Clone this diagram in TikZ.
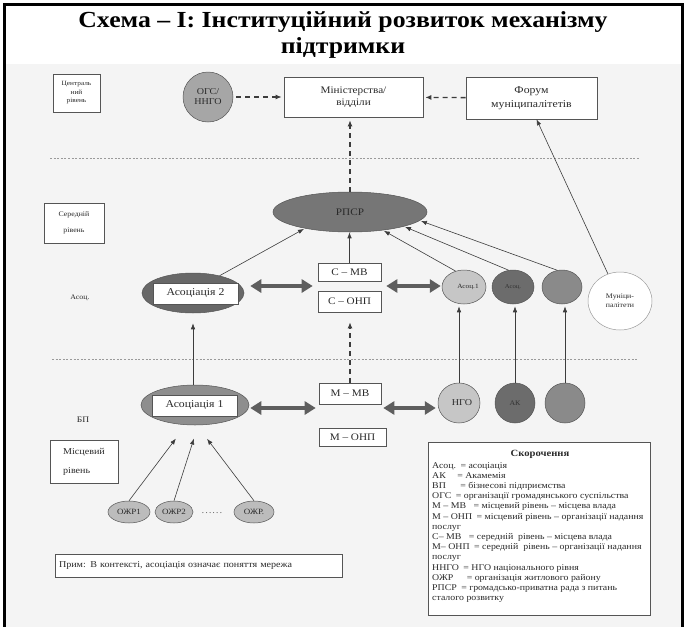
\documentclass[tikz,border=0pt]{standalone}
\usepackage{fontspec}
\setmainfont[FakeStretch=1.12]{Liberation Serif}
\usetikzlibrary{shapes.geometric,arrows.meta,calc}
\definecolor{scanbg}{HTML}{F4F4F4}
\definecolor{txt}{HTML}{2A2A2A}
\definecolor{boxc}{HTML}{555555}
\definecolor{linec}{HTML}{3C3C3C}
\definecolor{dblc}{HTML}{5E5E5E}
\definecolor{rpsrc}{HTML}{767676}
\definecolor{atwoc}{HTML}{686868}
\definecolor{aonec}{HTML}{8E8E8E}
\definecolor{ogsc}{HTML}{A6A6A6}
\definecolor{lightc}{HTML}{C6C6C6}
\definecolor{darkc}{HTML}{6C6C6C}
\definecolor{medc}{HTML}{8A8A8A}
\definecolor{ozc}{HTML}{BCBCBC}
\definecolor{hdc}{HTML}{9A9A9A}
\tikzset{
  fs/.style={font=\fontsize{#1}{#1}\selectfont},
  titlef/.style={font=\fontsize{23}{26}\bfseries\selectfont, text=black, inner sep=0},
  rbox/.style={draw=boxc, line width=0.6pt, fill=white, inner sep=0, align=center, text=txt},
  ell/.style={ellipse, draw=boxc, line width=0.5pt, inner sep=0, align=center, text=txt},
  lbl/.style={inner sep=0, text=txt, align=center},
  arr/.style={draw=linec, line width=0.6pt, -{Latex[length=6pt,width=4.5pt]}},
  darr/.style={draw=linec, line width=1.3pt, dash pattern=on 5pt off 4pt, -{Latex[length=6pt,width=5pt]}},
  dbl/.style={draw=dblc, line width=4.5pt, {Triangle[length=11pt,width=13pt]}-{Triangle[length=11pt,width=13pt]}},
  hdash/.style={draw=hdc, line width=0.6pt, dash pattern=on 2pt off 1.6pt},
  skt/.style={inner sep=0, anchor=base west, text=txt, font=\fontsize{8.8}{9}\selectfont},
}
\begin{document}
\begin{tikzpicture}[x=1pt,y=-1pt]
\useasboundingbox (0,0) rectangle (686,627);
\fill[scanbg] (5,64) rectangle (681,627);
\draw[line width=3pt] (4,627) -- (4,4) -- (682,4) -- (682,627);

% title
\node[titlef] (t1) at (343,22) {Схема – I: Інституційний розвиток механізму};
\node[titlef] (t2) at (343,48) {підтримки};

% level separators
\draw[hdash] (50,158) -- (640,158);
\draw[hdash] (52,359) -- (637,359);

% left level labels
\node[rbox, minimum width=47pt, minimum height=38pt, font=\fontsize{6.5}{8.5}\selectfont] (cen) at (76.5,93) {Централь\\ний\\рівень};
\node[rbox, minimum width=60pt, minimum height=40pt, font=\fontsize{7}{16}\selectfont] (ser) at (74,223) {Середній\\рівень};
\node[lbl, fs=7] (asoc) at (80,298) {Асоц.};
\node[lbl, fs=8.5] (bp) at (83,420) {БП};
\node[rbox, minimum width=68pt, minimum height=43pt, align=left, font=\fontsize{9}{19}\selectfont] (mis) at (84,461.5) {Місцевий\\рівень};

% central level
\node[ell, circle, fill=ogsc, minimum size=50pt, font=\fontsize{9}{10}\selectfont] (ogs) at (208,97) {ОГС/\\ННГО};
\node[rbox, minimum width=139pt, minimum height=40pt, font=\fontsize{10}{12.5}\selectfont] (min) at (353.5,97) {Міністерства/\\відділи};
\node[rbox, minimum width=131pt, minimum height=42pt, font=\fontsize{10.5}{13.5}\selectfont] (for) at (531.5,98) {Форум\\муніципалітетів};

% middle level
\node[ell, fill=rpsrc, minimum width=154pt, minimum height=40pt, fs=10] (rpsr) at (350,212) {РПСР};
\node[ell, fill=atwoc, minimum width=102pt, minimum height=40pt] (a2) at (193,293) {};
\node[rbox, minimum width=85pt, minimum height=21pt, fs=10.5] (a2r) at (195.5,293.5) {Асоціація 2};
\node[rbox, minimum width=63pt, minimum height=18pt, fs=10] (cmv) at (349.5,272) {С – МВ};
\node[rbox, minimum width=63pt, minimum height=21pt, fs=10] (conp) at (349.5,301.5) {С – ОНП};
\node[ell, fill=lightc, minimum width=44pt, minimum height=34pt, fs=6.5] (as1) at (464,287) {\hspace*{8pt}Асоц.1};
\node[ell, fill=darkc, minimum width=42pt, minimum height=34pt, fs=6, text=black!80] (as2) at (513,287) {Асоц.};
\node[ell, fill=medc, minimum width=40pt, minimum height=34pt] (as3) at (562,287) {};
\node[ell, fill=white, draw=hdc, minimum width=64pt, minimum height=58pt, font=\fontsize{7}{9}\selectfont] (mun) at (620,301) {Муніци-\\палітети};

% local level
\node[ell, fill=aonec, minimum width=108pt, minimum height=40pt] (a1) at (195,405) {};
\node[rbox, minimum width=85pt, minimum height=21pt, fs=10.5] (a1r) at (194.5,405.5) {Асоціація 1};
\node[rbox, minimum width=62pt, minimum height=21pt, fs=10] (mmv) at (350,393.5) {М – МВ};
\node[rbox, minimum width=67pt, minimum height=18pt, fs=10] (monp) at (352.5,437.5) {М – ОНП};
\node[ell, fill=lightc, minimum width=42pt, minimum height=40pt, fs=9] (ngo) at (459,403) {\hspace*{6pt}НГО};
\node[ell, fill=darkc, minimum width=40pt, minimum height=40pt, fs=7, text=black!80] (ak) at (515,403) {АК};
\node[ell, fill=medc, minimum width=40pt, minimum height=40pt] (bl3) at (565,403) {};
\node[ell, fill=ozc, minimum width=42pt, minimum height=22pt, fs=8] (oz1) at (129,512) {ОЖР1};
\node[ell, fill=ozc, minimum width=38pt, minimum height=22pt, fs=8] (oz2) at (174,512) {ОЖР2};
\node[lbl, fs=8] (dots) at (212,513) {.\,.\,.\,.\,.\,.};
\node[ell, fill=ozc, minimum width=40pt, minimum height=22pt, fs=8] (oz3) at (254,512) {ОЖР.};

% note
\node[rbox, minimum width=287pt, minimum height=23pt, align=left, text width=279pt, fs=9] (note) at (198.5,565.5) {Прим: В контексті, асоціація означає поняття мережа};

% abbreviations box
\node[rbox, minimum width=222pt, minimum height=173pt] (sk) at (539,528.5) {};
\node[inner sep=0, text=txt, font=\fontsize{9.5}{10}\bfseries\selectfont] (skt) at (540,454) {Скорочення};
\foreach \yy/\gp/\ab/\rest [count=\i] in {
  468/4/Асоц./асоціація,
  478.2/11/АК/Акамемія,
  488.4/14/ВП/бізнесові підприємства,
  498.6/4/ОГС/організації громадянського суспільства,
  508.8/7/М – МВ/місцевий рівень – місцева влада,
  519/4/М – ОНП/місцевий рівень – організації надання,
  539.4/7/С– МВ/середній~ рівень – місцева влада,
  549.6/4/М– ОНП/середній~ рівень – організації надання,
  570/4/ННГО/НГО національного рівня,
  580.2/13/ОЖР/організація житлового району,
  590.4/4/РПСР/громадсько-приватна рада з питань}{
  \node[skt] (ska\i) at (432,\yy) {\ab};
  \path (ska\i.base east) ++(\gp,0) node[skt] (skb\i) {= \rest};
}
\node[skt] (skc1) at (432,529.2) {послуг};
\node[skt] (skc2) at (432,559.8) {послуг};
\node[skt] (skc3) at (432,600.6) {сталого розвитку};

% connectors: central level
\draw[darr, shorten <=3pt, shorten >=2pt] (ogs) -- (min);
\draw[darr, shorten >=2pt] (for) -- (min);
\draw[darr, shorten >=3pt] (rpsr.north) -- (rpsr.north |- min.south);
\draw[arr] (mun.114) -- ([xshift=5pt]for.south);

% connectors: middle level
\draw[arr, shorten >=1pt] (a2.33) -- (rpsr.200);
\draw[arr] (cmv.north) -- (cmv.north |- rpsr.south);
\draw[arr, shorten >=1pt] (as1.118) -- (rpsr.331);
\draw[arr, shorten >=1pt] (as2.105) -- (rpsr.345);
\draw[arr, shorten >=1pt] (as3.106) -- (rpsr.353);
\coordinate (cgap) at ($(cmv.south)!0.5!(conp.north)$);
\draw[dbl, shorten <=6pt, shorten >=5pt] (a2.east |- cgap) -- (cmv.west |- cgap);
\draw[dbl, shorten <=5pt, shorten >=1pt] (cmv.east |- cgap) -- (as1.west |- cgap);

% connectors: local level
\draw[arr, shorten >=10pt] (a1.north -| a2.south) -- (a2.south);
\draw[darr, shorten >=10pt] (mmv.north) -- (mmv.north |- conp.south);
\draw[arr, shorten >=2pt] (ngo.north) -- (ngo.north |- as1.south);
\draw[arr, shorten >=2pt] (ak.north) -- (ak.north |- as2.south);
\draw[arr, shorten >=2pt] (bl3.north) -- (bl3.north |- as3.south);
\coordinate (mrow) at (0,408);
\draw[dbl, shorten <=1pt, shorten >=3pt] (a1.east |- mrow) -- (mmv.west |- mrow);
\draw[dbl, shorten <=2pt, shorten >=2pt] (mmv.east |- mrow) -- (ngo.west |- mrow);
\draw[arr, shorten >=17pt] (oz1.north) -- (a1.246);
\draw[arr, shorten >=14pt] (oz2.north) -- (a1.279);
\draw[arr, shorten >=17pt] (oz3.north) -- (a1.275);
\end{tikzpicture}
\end{document}
